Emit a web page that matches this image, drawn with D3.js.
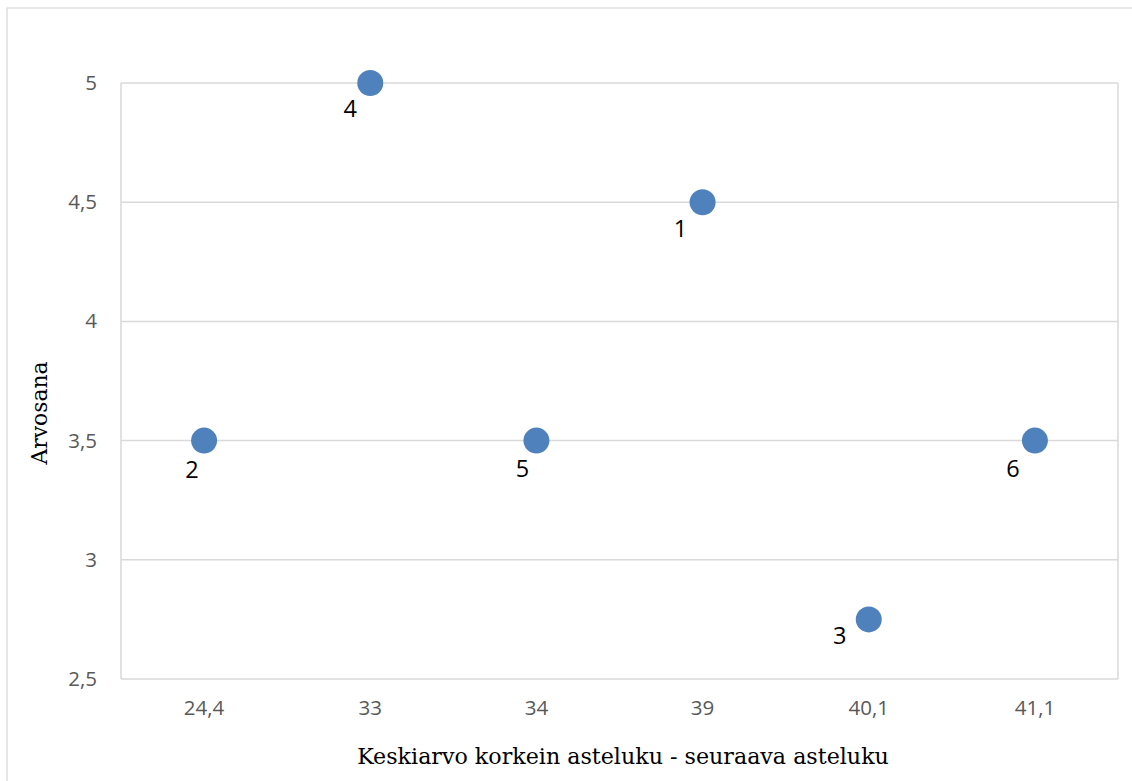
<!DOCTYPE html>
<html>
<head>
<meta charset="utf-8">
<script src="https://cdn.jsdelivr.net/npm/d3@7"></script>
<style>
  html, body { margin: 0; padding: 0; background: #fff; }
  svg { display: block; }
</style>
</head>
<body>
<script>
// ---- data ----
const categories = ["24,4", "33", "34", "39", "40,1", "41,1"];
const pointLabels = ["1", "2", "3", "4", "5", "6"];
const pointCategory = ["39", "24,4", "40,1", "33", "34", "41,1"];
const pointValues = [4.5, 3.5, 2.75, 5, 3.5, 3.5];
const yTicks = [2.5, 3, 3.5, 4, 4.5, 5];
const xTitle = "Keskiarvo korkein asteluku - seuraava asteluku";
const yTitle = "Arvosana";

// label placement offsets (style)
const labelDx = [-22, -12, -29, -20, -14, -22];
const labelDy = [35, 37, 25, 34, 36, 36];

const W = 1132, H = 781;
const plot = { left: 121, right: 1118, top: 83, bottom: 679 };

const svg = d3.select("body").append("svg").attr("width", W).attr("height", H);

// outer chart border
svg.append("rect").attr("x", 7).attr("y", 8).attr("width", W + 10).attr("height", H + 10)
  .attr("fill", "#fff").attr("stroke", "#d9d9d9").attr("stroke-width", 1.3);

const x = d3.scaleBand().domain(categories).range([plot.left, plot.right]).padding(0);
const y = d3.scaleLinear().domain([2.5, 5]).range([plot.bottom, plot.top]);

// gridlines
svg.append("g").selectAll("line").data(yTicks).join("line")
  .attr("x1", plot.left).attr("x2", plot.right)
  .attr("y1", d => y(d)).attr("y2", d => y(d))
  .attr("stroke", "#d9d9d9").attr("stroke-width", 1.5);

// plot border left/right
svg.append("line").attr("x1", plot.left).attr("x2", plot.left).attr("y1", plot.top).attr("y2", plot.bottom)
  .attr("stroke", "#d9d9d9").attr("stroke-width", 1.5);
svg.append("line").attr("x1", plot.right).attr("x2", plot.right).attr("y1", plot.top).attr("y2", plot.bottom)
  .attr("stroke", "#d9d9d9").attr("stroke-width", 1.5);

const fmt = d => String(d).replace(".", ",");

// y axis labels
const yAxis = d3.axisLeft(y).tickValues(yTicks).tickFormat(fmt).tickSize(0).tickPadding(24);
const gy = svg.append("g").attr("transform", `translate(${plot.left},0)`).call(yAxis);
gy.select(".domain").remove();
gy.selectAll("text").attr("font-family", "'Open Sans', sans-serif").attr("font-size", 20.5)
  .attr("fill", "#595959");

// x axis labels
const xAxis = d3.axisBottom(x).tickSize(0).tickPadding(21);
const gx = svg.append("g").attr("transform", `translate(0,${plot.bottom})`).call(xAxis);
gx.select(".domain").remove();
gx.selectAll("text").attr("font-family", "'Open Sans', sans-serif").attr("font-size", 20.5)
  .attr("fill", "#595959");

// points
const pts = pointLabels.map((l, i) => ({ label: l, cat: pointCategory[i], v: pointValues[i], dx: labelDx[i], dy: labelDy[i] }));
svg.append("g").selectAll("circle").data(pts).join("circle")
  .attr("cx", d => x(d.cat) + x.bandwidth() / 2)
  .attr("cy", d => y(d.v))
  .attr("r", 13)
  .attr("fill", "#4f81bd");

svg.append("g").selectAll("text").data(pts).join("text")
  .attr("x", d => x(d.cat) + x.bandwidth() / 2 + d.dx)
  .attr("y", d => y(d.v) + d.dy)
  .attr("text-anchor", "middle")
  .attr("font-family", "'Open Sans', sans-serif")
  .attr("font-size", 23.5)
  .attr("fill", "#000")
  .text(d => d.label);

// axis titles
const xt = svg.append("text")
  .attr("x", (plot.left + plot.right) / 2 + 3.5)
  .attr("y", 764)
  .attr("text-anchor", "middle")
  .attr("font-family", "'DejaVu Serif', serif")
  .attr("font-size", 20)
  .attr("fill", "#000")
  .text(xTitle);
// fit width to reference
const xtLen = xt.node().getComputedTextLength();
xt.attr("font-size", 20 * 532 / xtLen);

const yt = svg.append("text")
  .attr("transform", `translate(47,413) rotate(-90)`)
  .attr("text-anchor", "middle")
  .attr("font-family", "'DejaVu Serif', serif")
  .attr("font-size", 20)
  .attr("fill", "#000")
  .text(yTitle);
const ytLen = yt.node().getComputedTextLength();
yt.attr("font-size", 20 * 103 / ytLen);
</script>
</body>
</html>
